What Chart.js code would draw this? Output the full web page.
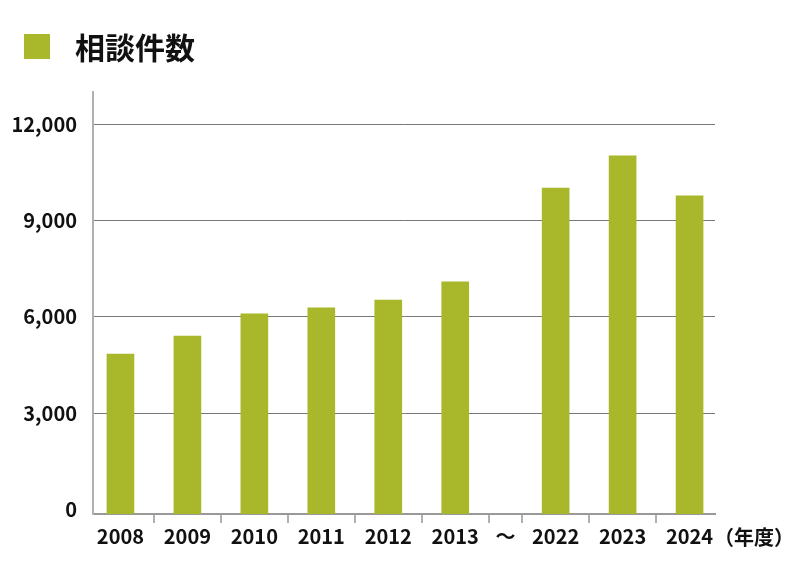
<!DOCTYPE html>
<html lang="ja">
<head>
<meta charset="utf-8">
<script src="https://cdn.jsdelivr.net/npm/chart.js@4/dist/chart.umd.min.js"></script>
<style>
  body { margin: 0; background: #fff; }
  #wrap { position: relative; width: 800px; height: 588px; }
  #head { position: absolute; left: 24px; top: 24px; display: flex; align-items: center;
          font-family: "Noto Sans CJK JP", sans-serif; font-weight: bold; font-size: 30px; color: #111; }
  #head span.box { display: inline-block; width: 26px; height: 25px; background: #a9b72b; margin-right: 25px; }
</style>
</head>
<body>
<div id="wrap">
  <div id="head"><span class="box"></span><span>相談件数</span></div>
  <canvas id="chart" width="800" height="588"></canvas>
</div>
<script>
// データ
const categories = ['2008', '2009', '2010', '2011', '2012', '2013', '～', '2022', '2023', '2024'];
const consultCounts = [4840, 5400, 6090, 6280, 6520, 7090, null, 10010, 11010, 9770];
const yTicks = [0, 3000, 6000, 9000, 12000];
const unitLabel = '（年度）';

const barColor = '#a9b72b';
const font = { family: '"Noto Sans CJK JP", sans-serif', size: 20, weight: 'bold' };

// 「～」の枠だけ半分の幅にする
const centers = [];
const bounds = [];
let pos = -0.5;
categories.forEach(function(c, i) {
    const w = c === '～' ? 0.5 : 1;
    centers.push(pos + w / 2);
    pos += w;
    if (i < categories.length - 1) bounds.push(pos);
});

const points = [];
consultCounts.forEach(function(v, i) {
    if (v !== null) points.push({ x: centers[i], y: v });
});

const xTicks = centers.concat(bounds).sort(function(a, b) { return a - b; });

const unitPlugin = {
    id: 'unitLabel',
    afterDraw: function(chart) {
        const ctx = chart.ctx;
        ctx.save();
        ctx.font = 'bold 20px "Noto Sans CJK JP", sans-serif';
        ctx.fillStyle = '#111';
        ctx.textAlign = 'left';
        ctx.textBaseline = 'middle';
        ctx.fillText(unitLabel, chart.chartArea.right - 1, 537);
        ctx.restore();
    }
};

const ctx = document.getElementById('chart').getContext('2d');
new Chart(ctx, {
    type: 'bar',
    data: {
        datasets: [{
            label: '相談件数',
            data: points,
            backgroundColor: barColor,
            barThickness: 27,
            base: -140
        }]
    },
    options: {
        responsive: false,
        animation: false,
        layout: { padding: { top: 92, right: 85, left: 0, bottom: 0 } },
        plugins: {
            legend: { display: false },
            tooltip: { enabled: false }
        },
        scales: {
            x: {
                type: 'linear',
                min: -0.41,
                max: 8.88,
                offset: false,
                afterBuildTicks: function(scale) {
                    scale.ticks = xTicks.map(function(v) { return { value: v }; });
                },
                afterFit: function(scale) { scale.height = 74; },
                grid: {
                    offset: false,
                    drawOnChartArea: false,
                    tickLength: 9,
                    lineWidth: 2,
                    tickColor: function(c) {
                        return c.tick && bounds.indexOf(c.tick.value) >= 0 ? '#b0b0b0' : 'transparent';
                    }
                },
                border: { color: '#999', width: 2 },
                ticks: {
                    autoSkip: false,
                    maxRotation: 0,
                    padding: 1,
                    color: '#111',
                    font: font,
                    callback: function(v) {
                        const i = centers.indexOf(v);
                        return i >= 0 ? categories[i] : '';
                    }
                }
            },
            y: {
                min: -140,
                max: 13000,
                afterBuildTicks: function(scale) {
                    scale.ticks = yTicks.map(function(v) { return { value: v }; });
                },
                afterFit: function(scale) { scale.width = 93; },
                grid: {
                    drawTicks: false,
                    color: function(c) { return c.tick && c.tick.value === 0 ? 'transparent' : '#777'; },
                    lineWidth: 1
                },
                border: { color: '#b0b0b0', width: 2 },
                ticks: {
                    padding: 16,
                    color: '#111',
                    font: font,
                    callback: function(v) { return v.toLocaleString('en-US'); }
                }
            }
        }
    },
    plugins: [unitPlugin]
});
</script>
</body>
</html>
